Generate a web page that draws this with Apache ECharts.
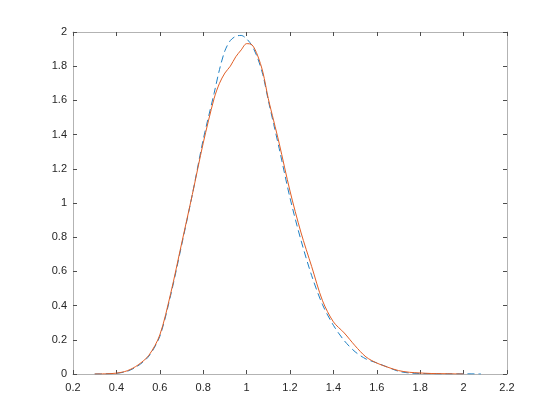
<!DOCTYPE html>
<html>
<head>
<meta charset="utf-8">
<script src="https://cdn.jsdelivr.net/npm/echarts@6/dist/echarts.min.js"></script>
<style>
html, body { margin: 0; padding: 0; background: #fff; }
#main { width: 560px; height: 420px; }
</style>
</head>
<body>
<div id="main"></div>
<script>
// x grid shared by both density curves
var xs = [0.30, 0.35, 0.40, 0.45, 0.50, 0.55, 0.60, 0.65, 0.70, 0.75, 0.80, 0.85, 0.875, 0.90, 0.925, 0.95, 0.975,
          1.00, 1.025, 1.05, 1.075, 1.10, 1.125, 1.15, 1.20, 1.25, 1.30, 1.35, 1.40, 1.45, 1.50, 1.55, 1.60,
          1.65, 1.70, 1.75, 1.80, 1.85, 1.90, 1.95, 2.00, 2.05, 2.08];

// dashed (blue) curve
var yDashed = [0.000, 0.001, 0.004, 0.016, 0.048, 0.105, 0.220, 0.460, 0.750, 1.050, 1.370, 1.640, 1.780, 1.890, 1.950, 1.975, 1.980,
               1.960, 1.920, 1.850, 1.750, 1.600, 1.460, 1.320, 1.030, 0.785, 0.575, 0.405, 0.285, 0.195, 0.130, 0.088, 0.065,
               0.040, 0.016, 0.006, 0.003, 0.002, 0.001, 0.001, 0.001, 0.0005, 0.000];

// solid (orange) curve
var ySolid = [0.000, 0.001, 0.005, 0.019, 0.053, 0.110, 0.228, 0.470, 0.760, 1.050, 1.350, 1.610, 1.700, 1.760, 1.800, 1.855, 1.895,
              1.932, 1.925, 1.865, 1.765, 1.610, 1.480, 1.350, 1.070, 0.830, 0.628, 0.428, 0.305, 0.240, 0.165, 0.100, 0.064,
              0.040, 0.020, 0.010, 0.006, 0.003, 0.002, 0.001, 0.000, null, null];

var xMin = 0.2, xMax = 2.2, xStep = 0.2;
var yMin = 0, yMax = 2, yStep = 0.2;

function pairs(x, y) {
    var out = [];
    for (var i = 0; i < x.length; i++) {
        if (y[i] === null) continue;
        out.push([x[i], y[i]]);
    }
    return out;
}

var boxColor = '#b3b3b3';
var tickColor = '#4d4d4d';
var labelStyle = { color: '#262626', fontSize: 11, fontFamily: 'Liberation Sans, Arial, sans-serif' };

function axis(pos, showLabel, isX) {
    return {
        type: 'value',
        position: pos,
        min: isX ? xMin : yMin,
        max: isX ? xMax : yMax,
        interval: isX ? xStep : yStep,
        axisLine: { show: true, onZero: false, lineStyle: { color: boxColor, width: 1 } },
        axisTick: { show: true, inside: true, length: 4, lineStyle: { color: tickColor, width: 1 } },
        axisLabel: showLabel ? Object.assign({ show: true, margin: isX ? 8 : 6 }, labelStyle) : { show: false },
        splitLine: { show: false }
    };
}

var myChart = echarts.init(document.getElementById('main'));
myChart.setOption({
    backgroundColor: '#fff',
    animation: false,
    grid: { left: 73, right: 53, top: 32, bottom: 46 },
    xAxis: [axis('bottom', true, true), axis('top', false, true)],
    yAxis: [axis('left', true, false), axis('right', false, false)],
    series: [
        {
            type: 'line',
            data: pairs(xs, yDashed),
            smooth: 0.3,
            showSymbol: false,
            lineStyle: { color: '#1f80c4', width: 1, type: [7, 4] }
        },
        {
            type: 'line',
            data: pairs(xs, ySolid),
            smooth: 0.3,
            showSymbol: false,
            lineStyle: { color: '#e05e26', width: 1 }
        }
    ]
});
</script>
</body>
</html>
